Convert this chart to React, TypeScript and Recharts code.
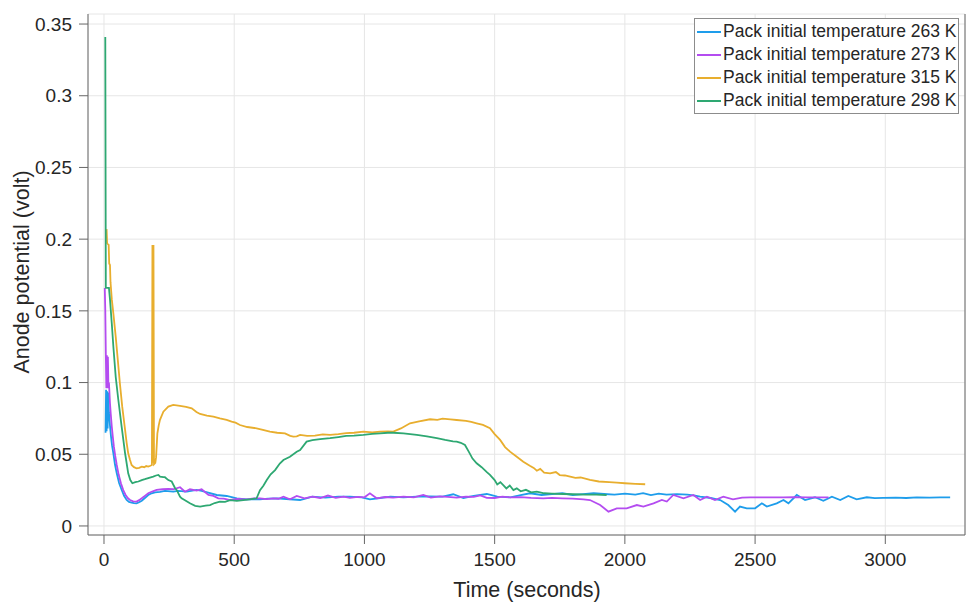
import { LineChart, Line, XAxis, YAxis, CartesianGrid, Legend } from 'recharts';

document.body.style.margin = '0';

const FONT = '"Liberation Sans", Arial, Helvetica, sans-serif';

const timeTicks = [0, 500, 1000, 1500, 2000, 2500, 3000];
const voltTicks = [0, 0.05, 0.1, 0.15, 0.2, 0.25, 0.3, 0.35];
const timeDomain = [-61.4, 3306];
const voltDomain = [-0.0063, 0.357];

// [time (s), anode potential (V)]
const temp263: [number, number][] = [
  [6, 0.065], [8, 0.095], [10, 0.066], [12, 0.094], [14, 0.068], [16, 0.093], [19, 0.079],
  [23, 0.07], [27, 0.0623], [31, 0.056], [36, 0.0507], [42, 0.043], [49, 0.0367], [58, 0.03],
  [68, 0.0251], [77, 0.021], [87, 0.0181], [96, 0.0168], [106, 0.0163], [115, 0.016],
  [125, 0.0158], [135, 0.0165], [145, 0.0176], [157, 0.0195], [170, 0.0216], [183, 0.0228],
  [196, 0.0235], [215, 0.0238], [234, 0.0244], [266, 0.0239], [285, 0.0244], [318, 0.0239],
  [356, 0.0251], [375, 0.0245], [400, 0.0232], [433, 0.0216], [471, 0.0209], [510, 0.0193],
  [548, 0.0186], [599, 0.0186], [630, 0.019], [663, 0.0193], [700, 0.0188], [753, 0.0181],
  [800, 0.0204], [850, 0.0198], [900, 0.0205], [944, 0.0204], [990, 0.02], [1021, 0.0186],
  [1060, 0.0195], [1100, 0.0204], [1150, 0.02], [1200, 0.0204], [1250, 0.0207], [1300, 0.0205],
  [1341, 0.0221], [1380, 0.0195], [1420, 0.021], [1470, 0.0223], [1510, 0.0204], [1560, 0.02],
  [1600, 0.0215], [1636, 0.0228], [1680, 0.0216], [1720, 0.0222], [1760, 0.0228], [1800, 0.0216],
  [1840, 0.0222], [1880, 0.0228], [1920, 0.0223], [1960, 0.0218], [2000, 0.0225], [2040, 0.0219],
  [2070, 0.0229], [2100, 0.0215], [2130, 0.0226], [2160, 0.0218], [2200, 0.0222], [2240, 0.0219],
  [2270, 0.0212], [2289, 0.0204], [2330, 0.0195], [2366, 0.0181], [2397, 0.0146], [2423, 0.01],
  [2442, 0.0135], [2468, 0.0123], [2500, 0.0123], [2526, 0.0158], [2545, 0.0135], [2583, 0.0158],
  [2609, 0.0181], [2628, 0.0158], [2660, 0.0216], [2692, 0.0181], [2730, 0.02], [2762, 0.0176],
  [2795, 0.0204], [2827, 0.0181], [2858, 0.0209], [2890, 0.0186], [2929, 0.02], [2960, 0.0194],
  [2992, 0.0196], [3040, 0.0198], [3080, 0.0195], [3121, 0.02], [3170, 0.0197], [3210, 0.0199],
  [3249, 0.02],
];

const temp273: [number, number][] = [
  [3, 0.166], [5, 0.15], [7, 0.12], [9, 0.096], [11, 0.119], [13, 0.096], [15, 0.118], [17, 0.097],
  [19, 0.1], [23, 0.0856], [26, 0.078], [30, 0.0692], [34, 0.062], [38, 0.0553], [43, 0.049],
  [49, 0.0425], [56, 0.036], [65, 0.0298], [74, 0.025], [83, 0.0216], [92, 0.0193], [100, 0.0181],
  [112, 0.0172], [125, 0.017], [135, 0.018], [145, 0.0193], [157, 0.021], [170, 0.0228],
  [185, 0.024], [202, 0.0251], [225, 0.0256], [247, 0.0258], [266, 0.0256], [292, 0.027],
  [311, 0.0239], [330, 0.0256], [356, 0.0246], [375, 0.0256], [401, 0.0216], [420, 0.021],
  [439, 0.0193], [460, 0.019], [484, 0.0181], [515, 0.0188], [548, 0.0186], [575, 0.0192],
  [599, 0.0193], [625, 0.0187], [650, 0.0193], [670, 0.019], [689, 0.0204], [714, 0.0186],
  [740, 0.0209], [770, 0.0192], [800, 0.0205], [830, 0.0195], [860, 0.0212], [890, 0.0196],
  [920, 0.0204], [944, 0.0196], [975, 0.0203], [1000, 0.02], [1021, 0.0228], [1047, 0.0193],
  [1080, 0.0202], [1110, 0.0198], [1150, 0.0205], [1190, 0.0199], [1226, 0.0216], [1255, 0.0198],
  [1290, 0.0206], [1320, 0.0203], [1354, 0.0198], [1390, 0.0205], [1420, 0.0203], [1445, 0.0213],
  [1470, 0.0196], [1500, 0.0195], [1530, 0.0204], [1560, 0.0199], [1600, 0.0201], [1640, 0.0196],
  [1687, 0.0193], [1720, 0.0196], [1760, 0.0193], [1800, 0.0191], [1841, 0.0186], [1866, 0.0181],
  [1905, 0.0146], [1937, 0.01], [1969, 0.0123], [2007, 0.0123], [2046, 0.0146], [2071, 0.0135],
  [2110, 0.0158], [2142, 0.0181], [2161, 0.017], [2186, 0.0216], [2225, 0.0193], [2263, 0.0216],
  [2289, 0.0181], [2315, 0.0204], [2346, 0.0181], [2378, 0.0204], [2415, 0.0186], [2450, 0.0198],
  [2481, 0.02], [2540, 0.0199], [2608, 0.02], [2650, 0.0201], [2700, 0.0199], [2740, 0.02],
  [2782, 0.02],
];

const temp315: [number, number][] = [
  [10, 0.207], [12, 0.197], [18, 0.196], [20, 0.183], [23, 0.182], [25, 0.17], [30, 0.158],
  [36, 0.148], [45, 0.132], [53, 0.1158], [61, 0.0995], [70, 0.0832], [81, 0.067], [87, 0.058],
  [93, 0.0507], [100, 0.046], [106, 0.0425], [115, 0.041], [125, 0.0402], [135, 0.0405],
  [145, 0.0414], [155, 0.041], [162, 0.0418], [170, 0.0414], [178, 0.042], [184, 0.0425],
  [186, 0.196], [188, 0.044], [190, 0.196], [192, 0.043], [197, 0.044], [200, 0.048], [205, 0.0646],
  [210, 0.07], [215, 0.074], [228, 0.0797], [247, 0.0832], [266, 0.0844], [292, 0.0837],
  [315, 0.083], [337, 0.082], [355, 0.0795], [369, 0.0781], [395, 0.077], [420, 0.0762],
  [445, 0.075], [471, 0.074], [490, 0.0727], [505, 0.072], [522, 0.0704], [550, 0.069],
  [586, 0.0681], [610, 0.067], [637, 0.0658], [665, 0.065], [695, 0.0646], [715, 0.0628],
  [727, 0.0623], [740, 0.0625], [753, 0.0635], [780, 0.0628], [810, 0.063], [840, 0.0638],
  [868, 0.0635], [900, 0.064], [930, 0.0648], [960, 0.065], [996, 0.0658], [1030, 0.0652],
  [1060, 0.0658], [1090, 0.066], [1111, 0.0658], [1140, 0.068], [1175, 0.0716], [1210, 0.073],
  [1252, 0.0744], [1280, 0.074], [1300, 0.0748], [1330, 0.0743], [1354, 0.0739], [1390, 0.0733],
  [1410, 0.0725], [1431, 0.0716], [1455, 0.0705], [1482, 0.0681], [1500, 0.064], [1521, 0.06],
  [1540, 0.055], [1559, 0.0518], [1580, 0.049], [1610, 0.0448], [1635, 0.042], [1650, 0.0405],
  [1662, 0.0385], [1675, 0.0398], [1690, 0.0372], [1713, 0.0367], [1735, 0.0376], [1750, 0.0355],
  [1770, 0.0352], [1790, 0.0344], [1810, 0.0335], [1830, 0.0338], [1866, 0.0321], [1900, 0.031],
  [1940, 0.0305], [1969, 0.0302], [2000, 0.0298], [2040, 0.0294], [2078, 0.0291],
];

const temp298: [number, number][] = [
  [5, 0.341], [7, 0.166], [19, 0.166], [23, 0.158], [30, 0.141], [36, 0.125], [45, 0.104],
  [55, 0.088], [68, 0.069], [81, 0.0507], [93, 0.0367], [101, 0.032], [109, 0.0298], [120, 0.0305],
  [132, 0.031], [145, 0.032], [157, 0.0326], [170, 0.0334], [189, 0.0344], [200, 0.0352],
  [209, 0.0356], [215, 0.0344], [228, 0.034], [234, 0.034], [247, 0.032], [260, 0.031],
  [273, 0.0263], [279, 0.0251], [292, 0.0204], [298, 0.0193], [311, 0.018], [330, 0.0158],
  [350, 0.014], [369, 0.0135], [390, 0.0142], [407, 0.0146], [425, 0.016], [445, 0.017],
  [465, 0.0168], [484, 0.018], [510, 0.0175], [535, 0.018], [560, 0.0186], [586, 0.0193],
  [599, 0.025], [612, 0.028], [625, 0.032], [640, 0.036], [657, 0.039], [675, 0.0435], [689, 0.046],
  [714, 0.0483], [740, 0.0518], [753, 0.053], [778, 0.0588], [800, 0.0598], [830, 0.0605],
  [868, 0.0612], [900, 0.062], [930, 0.0628], [960, 0.063], [996, 0.0635], [1030, 0.0642],
  [1060, 0.0646], [1090, 0.065], [1111, 0.065], [1150, 0.0645], [1201, 0.0635], [1240, 0.0625],
  [1278, 0.0612], [1310, 0.06], [1340, 0.059], [1354, 0.0588], [1370, 0.058], [1386, 0.0565],
  [1400, 0.052], [1415, 0.047], [1431, 0.0437], [1450, 0.041], [1470, 0.0375], [1482, 0.0356],
  [1500, 0.032], [1510, 0.029], [1522, 0.0305], [1533, 0.0285], [1545, 0.0262], [1558, 0.0282],
  [1572, 0.025], [1585, 0.0262], [1600, 0.0242], [1620, 0.0252], [1640, 0.0234], [1662, 0.0239],
  [1690, 0.0228], [1720, 0.0226], [1764, 0.0223], [1800, 0.0221], [1850, 0.0219], [1890, 0.0218],
  [1930, 0.0216],
];

const series = [
  { key: 't263', name: 'Pack initial temperature 263 K', color: '#1E9DEB', points: temp263 },
  { key: 't273', name: 'Pack initial temperature 273 K', color: '#B44CF0', points: temp273 },
  { key: 't315', name: 'Pack initial temperature 315 K', color: '#E8AE2E', points: temp315 },
  { key: 't298', name: 'Pack initial temperature 298 K', color: '#2EA872', points: temp298 },
];

const formatVolt = (v: number) => (v === 0 ? '0' : String(Number(v.toFixed(2))));

function BoxLegend() {
  return (
    <div
      style={{
        border: '1px solid #8c8c8c',
        background: '#fff',
        padding: '1px 2px 1px 0',
        fontFamily: FONT,
        fontSize: 17.5,
        color: '#262626',
        lineHeight: '23px',
      }}
    >
      {series.map((s) => (
        <div key={s.key} style={{ display: 'flex', alignItems: 'center', height: 23, whiteSpace: 'nowrap' }}>
          <span style={{ display: 'inline-block', width: 24, height: 2, background: s.color, margin: '0 2px 0 2px' }} />
          <span>{s.name}</span>
        </div>
      ))}
    </div>
  );
}

function YTitle() {
  return (
    <text
      x={29}
      y={272}
      transform="rotate(-90, 29, 272)"
      textAnchor="middle"
      fill="#262626"
      fontSize={21.5}
      fontFamily={FONT}
    >
      Anode potential (volt)
    </text>
  );
}

function XTitle() {
  return (
    <text x={527} y={597} textAnchor="middle" fill="#262626" fontSize={21.5} fontFamily={FONT}>
      Time (seconds)
    </text>
  );
}

export default function App() {
  const tickStyle = { fill: '#262626', fontSize: 19, fontFamily: FONT };
  return (
    <div style={{ width: 967, height: 606, background: '#fff' }}>
      <LineChart width={967} height={606} margin={{ top: 14, right: 0, bottom: 0, left: 0 }}>
        <CartesianGrid xAxisId="bottom" yAxisId="left" stroke="#e6e6e6" strokeWidth={1} />
        <XAxis
          xAxisId="bottom"
          dataKey="t"
          type="number"
          domain={timeDomain}
          ticks={timeTicks}
          allowDataOverflow
          height={71}
          tickSize={9}
          tickMargin={9}
          stroke="#666"
          tick={tickStyle}
          label={<XTitle />}
        />
        <XAxis
          xAxisId="top"
          orientation="top"
          type="number"
          domain={timeDomain}
          ticks={timeTicks}
          allowDataOverflow
          height={0}
          tickSize={9}
          tick={false}
          stroke="#666"
        />
        <YAxis
          yAxisId="left"
          type="number"
          domain={voltDomain}
          ticks={voltTicks}
          allowDataOverflow
          width={88}
          tickSize={9}
          tickMargin={7}
          stroke="#666"
          tick={tickStyle}
          tickFormatter={formatVolt}
          label={<YTitle />}
        />
        <YAxis
          yAxisId="right"
          orientation="right"
          type="number"
          domain={voltDomain}
          allowDataOverflow
          width={2}
          tick={false}
          tickLine={false}
          stroke="#666"
        />
        <Legend
          layout="vertical"
          align="center"
          verticalAlign="middle"
          wrapperStyle={{ top: 18, left: 694, width: 'auto', height: 'auto' }}
          content={() => <BoxLegend />}
        />
        {series.map((s) => (
          <Line
            key={s.key}
            xAxisId="bottom"
            yAxisId="left"
            data={s.points.map(([t, v]) => ({ t, v }))}
            dataKey="v"
            name={s.name}
            type="linear"
            stroke={s.color}
            strokeWidth={1.8}
            dot={false}
            activeDot={false}
            isAnimationActive={false}
          />
        ))}
      </LineChart>
    </div>
  );
}
